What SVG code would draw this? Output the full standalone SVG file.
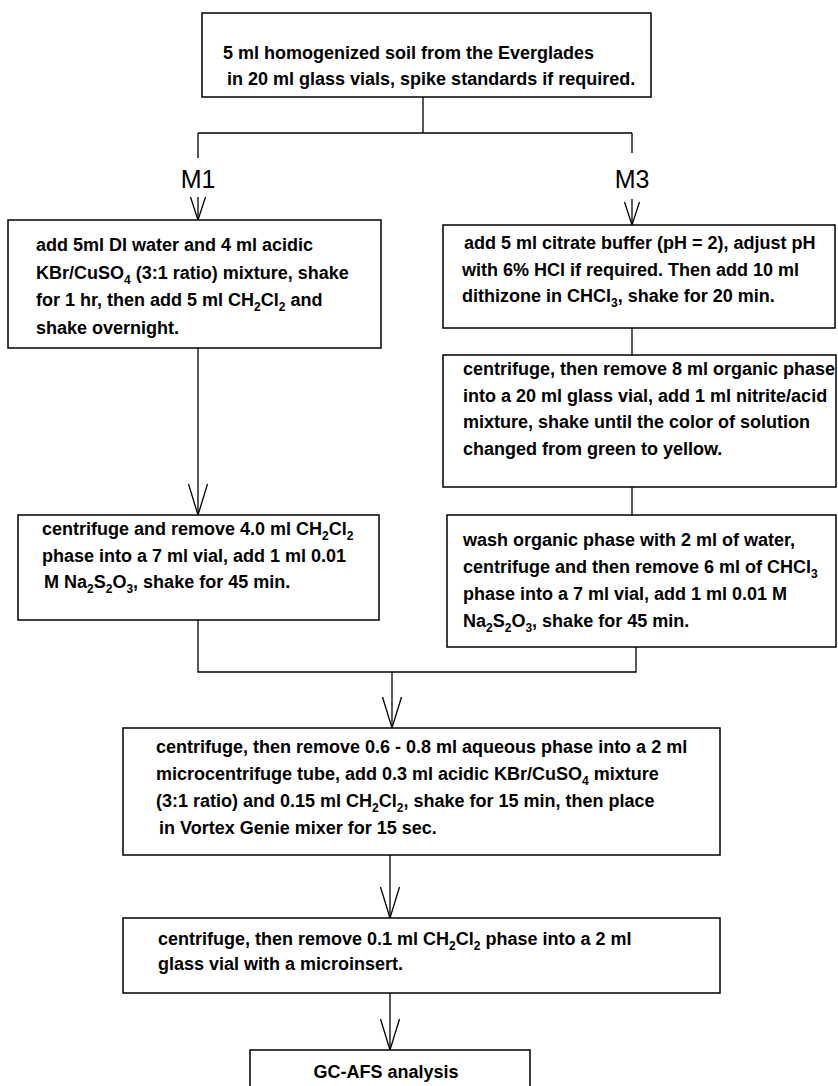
<svg xmlns="http://www.w3.org/2000/svg" width="838" height="1086" viewBox="0 0 838 1086">
<style>
.box{fill:#fff;stroke:#000;stroke-width:1.5}
.ln{fill:none;stroke:#000;stroke-width:1.3}
.t{font-family:"Liberation Sans",Arial,sans-serif;font-size:18px;font-weight:bold;fill:#000}
.s{font-size:12px}
.lbl{font-family:"Liberation Sans",Arial,sans-serif;font-size:25px;fill:#000;text-anchor:middle}
</style>
<defs>
<marker id="vb" markerUnits="userSpaceOnUse" markerWidth="34" markerHeight="24" viewBox="-32 -12 34 24" refX="0" refY="0" orient="auto">
<path d="M-31,-9.5 L0,0 L-31,9.5" fill="none" stroke="#000" stroke-width="1.3"/>
</marker>
<marker id="vs" markerUnits="userSpaceOnUse" markerWidth="26" markerHeight="20" viewBox="-24 -10 26 20" refX="0" refY="0" orient="auto">
<path d="M-23,-7.5 L0,0 L-23,7.5" fill="none" stroke="#000" stroke-width="1.3"/>
</marker>
</defs>
<rect width="838" height="1086" fill="#fff"/>

<g id="connectors">
<path class="ln" d="M423,97 V133 M198,133 H632 M198,133 V158 M632,133 V153"/>
<path class="ln" d="M198,197 V220" marker-end="url(#vs)"/>
<path class="ln" d="M632,199 V225" marker-end="url(#vs)"/>
<path class="ln" d="M198,348 V515" marker-end="url(#vb)"/>
<path class="ln" d="M632,328 V355 M632,487 V515"/>
<path class="ln" d="M198,620 V672 H636 V647"/>
<path class="ln" d="M392,672 V728" marker-end="url(#vb)"/>
<path class="ln" d="M390,855 V918" marker-end="url(#vb)"/>
<path class="ln" d="M390,993 V1050" marker-end="url(#vb)"/>
</g>

<g id="labels">
<text class="lbl" x="198" y="188">M1</text>
<text class="lbl" x="632" y="188">M3</text>
</g>

<g id="n-start">
<rect class="box" x="202" y="13" width="449" height="84"/>
<text class="t" x="223" y="59">5 ml homogenized soil from the Everglades</text>
<text class="t" x="227" y="85">in 20 ml glass vials, spike standards if required.</text>
</g>

<g id="n-m1-extract">
<rect class="box" x="8" y="220" width="373" height="128"/>
<text class="t" x="36" y="251">add 5ml DI water and 4 ml acidic</text>
<text class="t" x="36" y="279">KBr/CuSO<tspan class="s" dy="5">4</tspan><tspan dy="-5"> (3:1 ratio) mixture, shake</tspan></text>
<text class="t" x="36" y="306">for 1 hr, then add 5 ml CH<tspan class="s" dy="5">2</tspan><tspan dy="-5">Cl</tspan><tspan class="s" dy="5">2</tspan><tspan dy="-5"> and</tspan></text>
<text class="t" x="36" y="334">shake overnight.</text>
</g>

<g id="n-m3-extract">
<rect class="box" x="443" y="225" width="392" height="103"/>
<text class="t" x="464" y="249">add 5 ml citrate buffer (pH = 2), adjust pH</text>
<text class="t" x="462" y="276">with 6% HCl if required. Then add 10 ml</text>
<text class="t" x="462" y="302">dithizone in CHCl<tspan class="s" dy="5">3</tspan><tspan dy="-5">, shake for 20 min.</tspan></text>
</g>

<g id="n-m3-backextract">
<rect class="box" x="443" y="355" width="393" height="132"/>
<text class="t" x="463" y="375">centrifuge, then remove 8 ml organic phase</text>
<text class="t" x="463" y="402">into a 20 ml glass vial, add 1 ml nitrite/acid</text>
<text class="t" x="463" y="428">mixture, shake until the color of solution</text>
<text class="t" x="463" y="455">changed from green to yellow.</text>
</g>

<g id="n-m3-wash">
<rect class="box" x="447" y="515" width="389" height="132"/>
<text class="t" x="463" y="546">wash organic phase with 2 ml of water,</text>
<text class="t" x="463" y="573">centrifuge and then remove 6 ml of CHCl<tspan class="s" dy="5">3</tspan></text>
<text class="t" x="463" y="600">phase into a 7 ml vial, add 1 ml 0.01 M</text>
<text class="t" x="463" y="627">Na<tspan class="s" dy="5">2</tspan><tspan dy="-5">S</tspan><tspan class="s" dy="5">2</tspan><tspan dy="-5">O</tspan><tspan class="s" dy="5">3</tspan><tspan dy="-5">, shake for 45 min.</tspan></text>
</g>

<g id="n-m1-thio">
<rect class="box" x="18" y="515" width="361" height="105"/>
<text class="t" x="42" y="535">centrifuge and remove 4.0 ml CH<tspan class="s" dy="5">2</tspan><tspan dy="-5">Cl</tspan><tspan class="s" dy="5">2</tspan></text>
<text class="t" x="42" y="562">phase into a 7 ml vial, add 1 ml 0.01</text>
<text class="t" x="44" y="588">M Na<tspan class="s" dy="5">2</tspan><tspan dy="-5">S</tspan><tspan class="s" dy="5">2</tspan><tspan dy="-5">O</tspan><tspan class="s" dy="5">3</tspan><tspan dy="-5">, shake for 45 min.</tspan></text>
</g>

<g id="n-aqueous">
<rect class="box" x="123" y="728" width="597" height="127"/>
<text class="t" x="156" y="753">centrifuge, then remove 0.6 - 0.8 ml aqueous phase into a 2 ml</text>
<text class="t" x="156" y="780">microcentrifuge tube, add 0.3 ml acidic KBr/CuSO<tspan class="s" dy="5">4</tspan><tspan dy="-5"> mixture</tspan></text>
<text class="t" x="156" y="807">(3:1 ratio) and 0.15 ml CH<tspan class="s" dy="5">2</tspan><tspan dy="-5">Cl</tspan><tspan class="s" dy="5">2</tspan><tspan dy="-5">, shake for 15 min, then place</tspan></text>
<text class="t" x="159" y="834">in Vortex Genie mixer for 15 sec.</text>
</g>

<g id="n-transfer">
<rect class="box" x="123" y="918" width="597" height="75"/>
<text class="t" x="158" y="945">centrifuge, then remove 0.1 ml CH<tspan class="s" dy="5">2</tspan><tspan dy="-5">Cl</tspan><tspan class="s" dy="5">2</tspan><tspan dy="-5"> phase into a 2 ml</tspan></text>
<text class="t" x="158" y="970">glass vial with a microinsert.</text>
</g>

<g id="n-analysis">
<rect class="box" x="250" y="1050" width="280" height="50"/>
<text class="t" x="386" y="1078" text-anchor="middle">GC-AFS analysis</text>
</g>
</svg>
